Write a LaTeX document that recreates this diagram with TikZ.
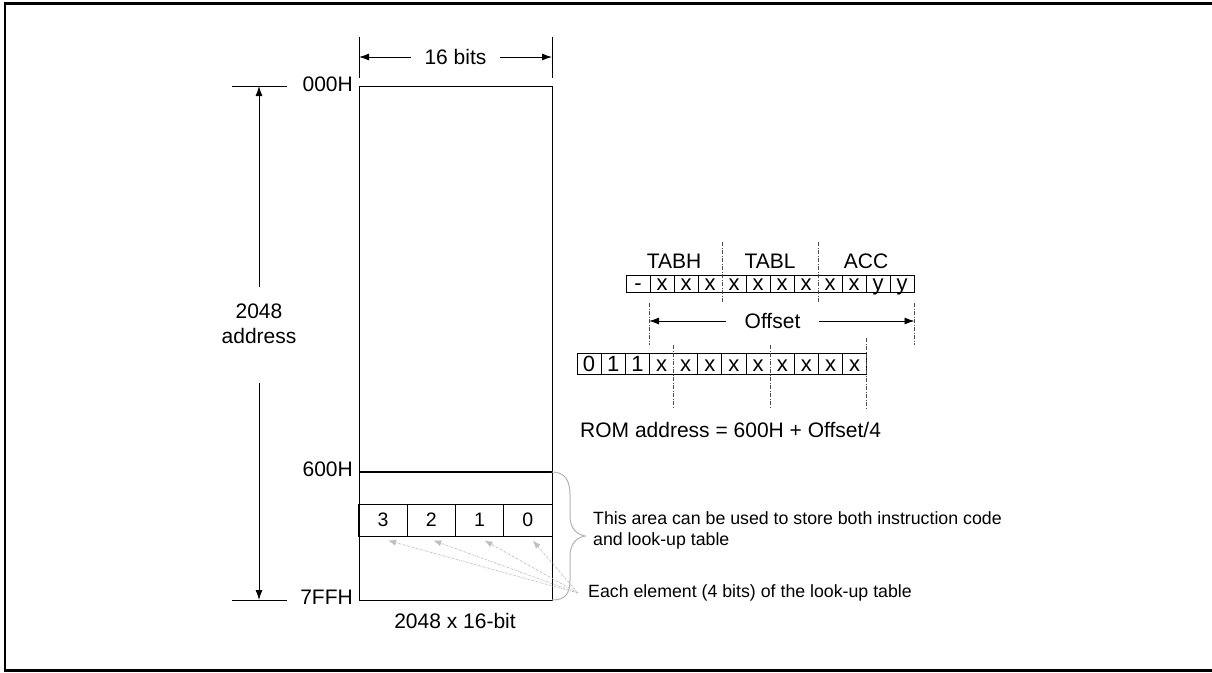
\documentclass[tikz,border=0pt]{standalone}
\usepackage{fontspec}
\setmainfont{Liberation Sans}
\usetikzlibrary{arrows.meta,calc}
\begin{document}
\begin{tikzpicture}[x=1pt,y=-1pt,
  big/.style={font=\fontsize{21}{25}\selectfont, inner sep=0pt},
  small/.style={font=\fontsize{17.75}{21}\selectfont, inner sep=0pt},
  arr/.style={-{Latex[length=10pt,width=7pt]}, line width=0.9pt},
  dimline/.style={line width=0.9pt},
  sep/.style={line width=0.8pt, gray!60!black, dash pattern=on 4pt off 1.5pt on 1pt off 1.5pt},
  ptr/.style={gray!50, line width=0.7pt, dash pattern=on 2pt off 1pt on 0.6pt off 1pt, -{Latex[length=8pt,width=6pt]}},
  cell/.style={draw, line width=1pt, minimum width=48.25pt, minimum height=32pt, inner sep=0pt, font=\fontsize{19.5}{22}\selectfont},
  reg/.style={inner sep=0pt, font=\fontsize{22}{24}\selectfont, anchor=base},
  gridline/.style={line width=0.9pt},
  ]
\useasboundingbox (0,0) rectangle (1212,672);
\draw[line width=2.5pt] (5,3.5) rectangle (1216,670.5);

% memory block
\node[draw, line width=1.2pt, minimum width=193pt, minimum height=514pt, anchor=north west, inner sep=0pt] (mem) at (359,86) {};
\draw[line width=1.2pt] (359,472) -- (552,472);
\node[cell] (c3) at (383.1,520) {3};
\node[cell] (c2) at (431.4,520) {2};
\node[cell] (c1) at (479.6,520) {1};
\node[cell] (c0) at (527.9,520) {0};

% address labels
\node[big, anchor=east] (h000) at (353,84) {000H};
\node[big, anchor=east] (h600) at (353,469) {600H};
\node[big, anchor=east] (h7ff) at (353,597) {7FFH};
\node[big] (size) at (455,621) {2048 x 16-bit};

% 16 bits dimension
\draw[dimline] (359,37) -- (359,78);
\draw[dimline] (552,37) -- (552,78);
\coordinate (bl) at (359,57);
\coordinate (br) at (552,57);
\node[big, inner xsep=13pt] (bits) at (455.5,57) {16 bits};
\draw[arr] (bits.west) -- (bl);
\draw[arr] (bits.east) -- (br);

% 2048 address dimension
\draw[dimline] (232,86) -- (287,86);
\draw[dimline] (232,600) -- (287,600);
\node[big, align=center] (addr) at (259,324) {2048\\address};
\coordinate (atop) at (259,86);
\coordinate (abot) at (259,600);
\coordinate (a1) at (259,287);
\coordinate (a2) at (259,383);
\draw[arr] (a1) -- (atop);
\draw[arr] (a2) -- (abot);

% brace
\draw[gray!60, line width=1pt] (552,472) .. controls (566,472) and (570,482) .. (570,495) -- (570,515) .. controls (570,527) and (575,534) .. (585,536) .. controls (575,538) and (570,545) .. (570,557) -- (570,580) .. controls (570,593) and (566,600) .. (552,600);

% annotations
\node[small, anchor=west, align=left] (area) at (593,530) {This area can be used to store both instruction code\\and look-up table};
\node[small, anchor=west] (each) at (588,593) {Each element (4 bits) of the look-up table};
\coordinate (src) at ([xshift=-10pt]each.west);
\draw[ptr] (src) -- ([xshift=5pt,yshift=-4pt]c3.south);
\draw[ptr] (src) -- ([xshift=2pt,yshift=-4pt]c2.south);
\draw[ptr] (src) -- ([xshift=5pt,yshift=-4pt]c1.south);
\draw[ptr] (src) -- ([xshift=5pt,yshift=-4pt]c0.south);

% register 1
\node[big] (tabh) at (674,261) {TABH};
\node[big] (tabl) at (770,261) {TABL};
\node[big] (acc) at (866,261) {ACC};
\draw[gridline] (626,275) rectangle (914,292);
\foreach \k in {1,2,3,5,6,7,9,10,11} \draw[gridline] ({626+24*\k},275) -- ({626+24*\k},292);
\foreach \t [count=\i from 0] in {-,x,x,x,x,x,x,x,x,x,y,y}
  \node[reg] (ra\i) at ({626+24*\i+12},290) {\t};
\draw[sep] (722,242) -- (722,303);
\draw[sep] (818,242) -- (818,303);

% offset
\draw[sep] (649,303) -- (649,345);
\draw[sep] (914.5,303) -- (914.5,345);
\coordinate (ol) at (649,321);
\coordinate (or) at (914.5,321);
\node[big, inner xsep=18pt] (off) at (772.5,321) {Offset};
\draw[arr] (off.west) -- (ol);
\draw[arr] (off.east) -- (or);

% register 2
\draw[gridline] (577,353) rectangle (866.8,374);
\foreach \k in {1,2,3,5,6,7,9,10,11} \draw[gridline] ({577+24.15*\k},353) -- ({577+24.15*\k},374);
\foreach \t [count=\i from 0] in {0,1,1,x,x,x,x,x,x,x,x,x}
  \node[reg] (rb\i) at ({577+24.15*\i+12.07},371.5) {\t};
\draw[sep] (673.6,345) -- (673.6,409);
\draw[sep] (770.2,345) -- (770.2,409);
\draw[sep] (866.8,338) -- (866.8,409);

\node[big, anchor=west] (rom) at (580,430) {ROM address = 600H + Offset/4};
\end{tikzpicture}
\end{document}
